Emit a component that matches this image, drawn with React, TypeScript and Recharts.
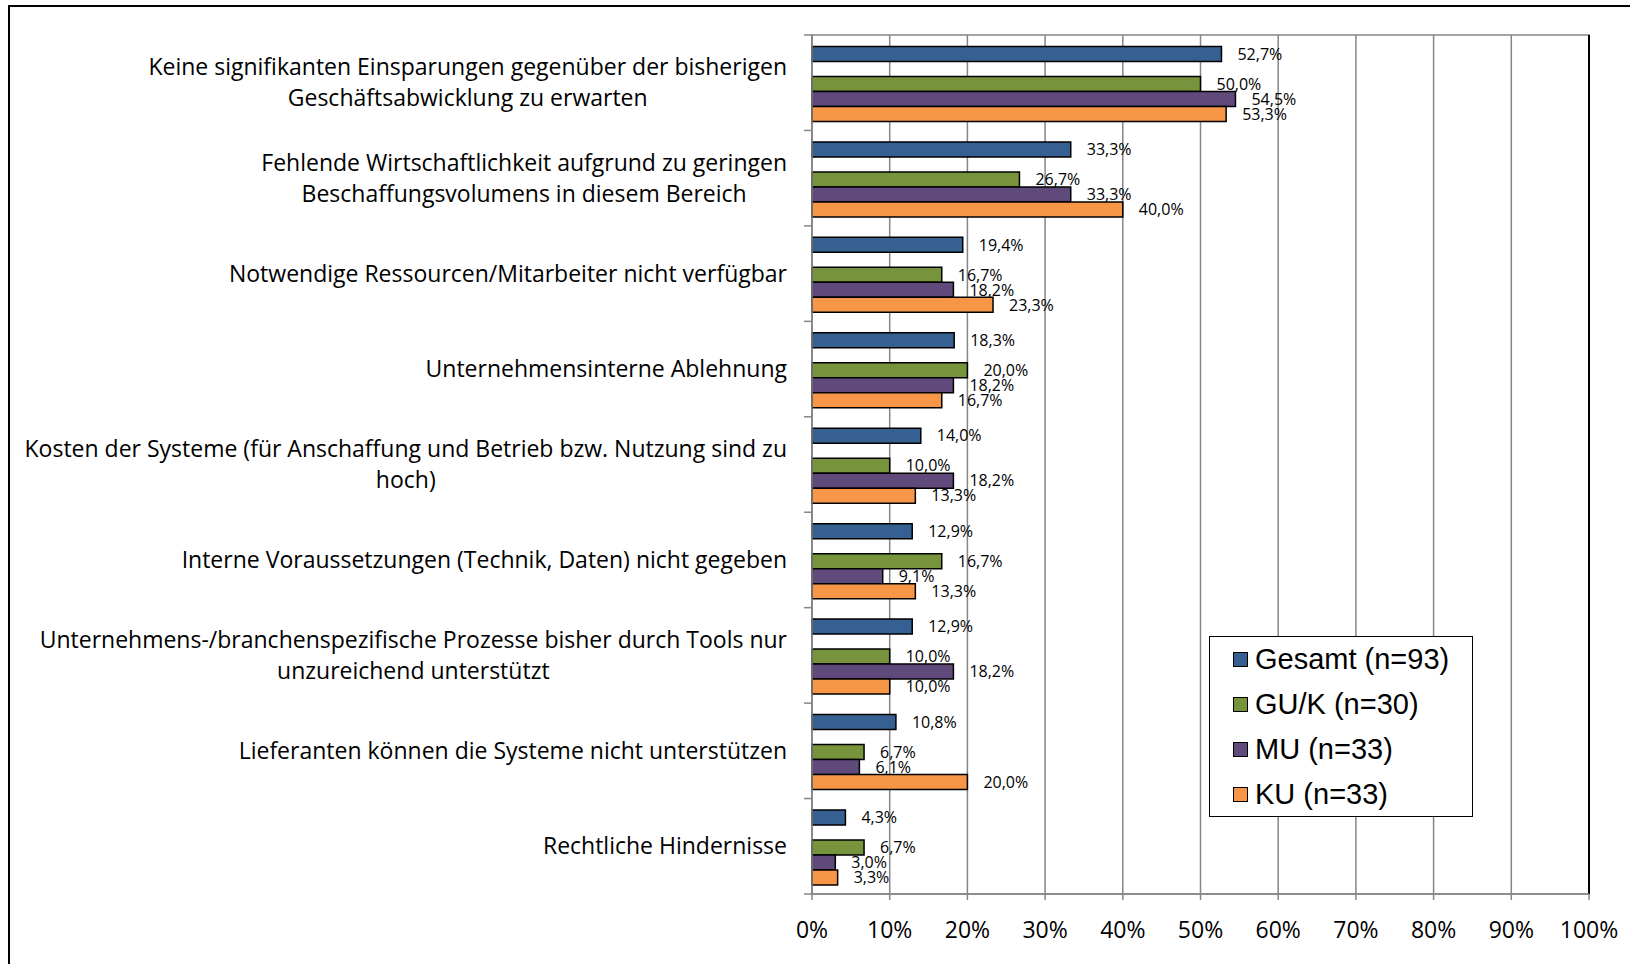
import React from "react";
import {
  BarChart,
  Bar,
  XAxis,
  YAxis,
  CartesianGrid,
  LabelList,
  Legend,
  ReferenceArea,
  ReferenceLine,
} from "recharts";

const categories = [
  "Keine signifikanten Einsparungen gegenüber der bisherigen\nGeschäftsabwicklung zu erwarten",
  "Fehlende Wirtschaftlichkeit aufgrund zu geringen\nBeschaffungsvolumens in diesem Bereich",
  "Notwendige Ressourcen/Mitarbeiter nicht verfügbar",
  "Unternehmensinterne Ablehnung",
  "Kosten der Systeme (für Anschaffung und Betrieb bzw. Nutzung sind zu\nhoch)",
  "Interne Voraussetzungen (Technik, Daten) nicht gegeben",
  "Unternehmens-/branchenspezifische Prozesse bisher durch Tools nur\nunzureichend unterstützt",
  "Lieferanten können die Systeme nicht unterstützen",
  "Rechtliche Hindernisse",
];

const gesamt = [52.7, 33.3, 19.4, 18.3, 14.0, 12.9, 12.9, 10.8, 4.3];
const guk = [50.0, 26.7, 16.7, 20.0, 10.0, 16.7, 10.0, 6.7, 6.7];
const mu = [54.5, 33.3, 18.2, 18.2, 18.2, 9.1, 18.2, 6.1, 3.0];
const ku = [53.3, 40.0, 23.3, 16.7, 13.3, 13.3, 10.0, 20.0, 3.3];

const xTicks = [0, 10, 20, 30, 40, 50, 60, 70, 80, 90, 100];

const series = [
  { key: "gesamt", name: "Gesamt (n=93)", color: "#376092" },
  { key: "guk", name: "GU/K (n=30)", color: "#77933C" },
  { key: "mu", name: "MU (n=33)", color: "#604A7B" },
  { key: "ku", name: "KU (n=33)", color: "#F79646" },
];

const data = categories.map((name, i) => ({
  name,
  gesamt: gesamt[i],
  guk: guk[i],
  mu: mu[i],
  ku: ku[i],
}));

const LABEL_FONT = '"Open Sans", sans-serif';
const CAT_SIZE = 23;
const GRID = "#868686";

let ctx: CanvasRenderingContext2D | null = null;
function textWidth(s: string, font: string) {
  if (!ctx) ctx = document.createElement("canvas").getContext("2d");
  if (!ctx) return s.length * 10;
  ctx.font = font;
  return ctx.measureText(s).width;
}

// category label, lines centred in a right-aligned block, plus the
// boundary tick marks between categories
const CategoryTick = (props: any) => {
  const { x, y, payload, index, visibleTicksCount } = props;
  const lines: string[] = String(payload.value).split("\n");
  const font = `${CAT_SIZE}px "Open Sans"`;
  const blockW = Math.max(...lines.map((l) => textWidth(l, font)));
  const right = x - 25;
  const cx = right - blockW / 2;
  const lh = 31;
  const top = y - ((lines.length - 1) * lh) / 2;
  const half = typeof payload.offset === "number" ? payload.offset : 0;
  return (
    <g>
      {half > 0 && (
        <line x1={x - 8} x2={x} y1={y - half} y2={y - half} stroke={GRID} strokeWidth={1.5} />
      )}
      {half > 0 && index === visibleTicksCount - 1 && (
        <line x1={x - 8} x2={x} y1={y + half} y2={y + half} stroke={GRID} strokeWidth={1.5} />
      )}
      {lines.map((l, i) => (
        <text
          key={i}
          x={cx}
          y={top + i * lh}
          dy="0.35em"
          textAnchor="middle"
          fontFamily={LABEL_FONT}
          fontSize={CAT_SIZE}
          fill="#000"
        >
          {l}
        </text>
      ))}
    </g>
  );
};

const PercentTick = (props: any) => {
  const { x, y, payload } = props;
  return (
    <text
      x={x}
      y={y + 28}
      dy="0.35em"
      textAnchor="middle"
      fontFamily={LABEL_FONT}
      fontSize={23}
      fill="#000"
    >
      {payload.value}%
    </text>
  );
};

const fmt = (v: any) =>
  v == null ? "" : Number(v).toFixed(1).replace(".", ",") + "%";

const LegendBox = () => (
  <div
    style={{
      width: 264,
      height: 181,
      border: "1.5px solid #000",
      boxSizing: "border-box",
      background: "#fff",
      fontFamily: '"Liberation Sans", Arial, sans-serif',
      fontSize: 29,
    }}
  >
    {series.map((s) => (
      <div
        key={s.key}
        style={{
          height: 45,
          display: "flex",
          alignItems: "center",
          paddingLeft: 23,
        }}
      >
        <span
          style={{
            width: 13,
            height: 13,
            background: s.color,
            border: "1.5px solid #000",
            marginRight: 7,
            display: "inline-block",
          }}
        />
        <span style={{ color: "#000" }}>{s.name}</span>
      </div>
    ))}
  </div>
);

export default function App() {
  return (
    <div
      style={{
        position: "relative",
        width: 1630,
        height: 964,
        overflow: "hidden",
        background: "#fff",
      }}
    >
      <style>{`body{margin:0;}`}</style>
      <BarChart
        width={1630}
        height={964}
        data={data}
        layout="vertical"
        margin={{ top: 35, right: 41, bottom: 0, left: 0 }}
        barCategoryGap="12%"
        barGap={0}
      >
        <CartesianGrid
          yAxisId="cat"
          vertical
          horizontal={false}
          stroke={GRID}
          strokeWidth={1.5}
        />
        <XAxis
          type="number"
          domain={[0, 100]}
          ticks={xTicks}
          interval={0}
          height={70}
          axisLine={{ stroke: GRID, strokeWidth: 1.5 }}
          tickLine={{ stroke: GRID, strokeWidth: 1.5 }}
          tickSize={6}
          tick={<PercentTick />}
        />
        <YAxis
          yAxisId="cat"
          type="category"
          dataKey="name"
          width={812}
          interval={0}
          axisLine={{ stroke: GRID, strokeWidth: 1.5 }}
          tickLine={false}
          tickSize={0}
          tickMargin={0}
          tick={<CategoryTick />}
        />
        <ReferenceArea
          yAxisId="cat"
          x1={0}
          x2={100}
          y1={categories[0]}
          y2={categories[categories.length - 1]}
          fill="none"
          stroke={GRID}
          strokeWidth={1.5}
          ifOverflow="visible"
        />
        <ReferenceLine yAxisId="cat" x={100} stroke="#000" strokeWidth={2} />
        <Bar
          yAxisId="cat"
          dataKey="gesamt"
          name={series[0].name}
          fill={series[0].color}
          stroke="#000"
          strokeWidth={1.5}
          isAnimationActive={false}
        >
          <LabelList
            dataKey="gesamt"
            position="right"
            offset={16}
            formatter={fmt}
            style={{ fontFamily: LABEL_FONT, fontSize: 16, fill: "#000" }}
          />
        </Bar>
        <Bar yAxisId="cat" dataKey="spacer" legendType="none" isAnimationActive={false} />
        {series.slice(1).map((s) => (
          <Bar
            key={s.key}
            yAxisId="cat"
            dataKey={s.key}
            name={s.name}
            fill={s.color}
            stroke="#000"
            strokeWidth={1.5}
            isAnimationActive={false}
          >
            <LabelList
              dataKey={s.key}
              position="right"
              offset={16}
              formatter={fmt}
              style={{ fontFamily: LABEL_FONT, fontSize: 16, fill: "#000" }}
            />
          </Bar>
        ))}
        <Legend
          layout="vertical"
          align="center"
          verticalAlign="middle"
          content={<LegendBox />}
          wrapperStyle={{ position: "absolute", left: 1209, top: 636, width: 264, height: 181 }}
        />
      </BarChart>
      <div
        style={{
          position: "absolute",
          left: 8,
          top: 5,
          width: 1700,
          height: 1100,
          border: "2px solid #000",
          pointerEvents: "none",
        }}
      />
    </div>
  );
}
